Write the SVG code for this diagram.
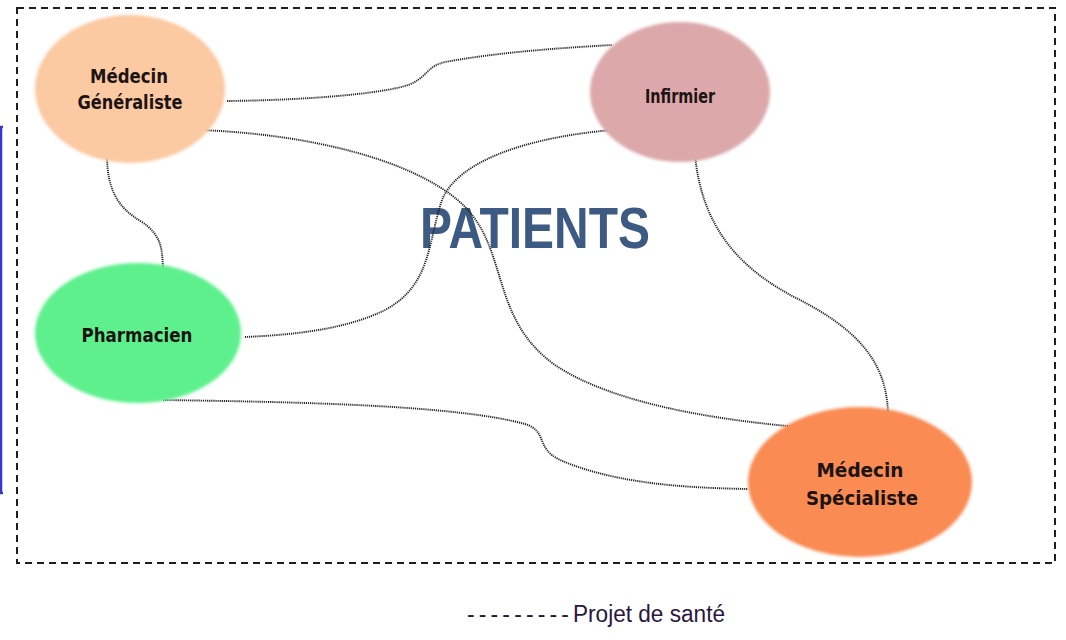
<svg xmlns="http://www.w3.org/2000/svg" width="1066" height="640" viewBox="0 0 1066 640">
  <style>
    .node-label { font-family: "DejaVu Sans Condensed", "DejaVu Sans", sans-serif; font-weight: bold; font-size: 20px; fill: #1c1414; text-anchor: middle; }
    .link { fill: none; stroke: #262626; stroke-width: 1.9; stroke-dasharray: 1.2 0.9; }
    .frame { fill: none; stroke: #1e1e1e; stroke-width: 2; stroke-dasharray: 7 5; }
    .title { font-family: "Liberation Sans", Arial, sans-serif; font-weight: bold; font-size: 57px; fill: #3d5a82; }
    .legend { font-family: "Liberation Sans", Arial, sans-serif; font-size: 23px; fill: #2a1640; }
  </style>
  <defs>
    <filter id="soft" x="-10%" y="-10%" width="120%" height="120%">
      <feGaussianBlur stdDeviation="1.6"/>
    </filter>
  </defs>

  <rect width="1066" height="640" fill="#ffffff"/>

  <!-- side marker on the left edge -->
  <path d="M3,127 H1 V493 H3" fill="none" stroke="#3a35d0" stroke-width="2.5"/>

  <!-- project boundary -->
  <rect class="frame" x="17" y="8" width="1038" height="555"/>

  <!-- central title -->
  <text class="title" x="420" y="248" textLength="230" lengthAdjust="spacingAndGlyphs">PATIENTS</text>

  <!-- connectors -->
  <g id="connectors">
    <path class="link" d="M227,101 C320,100 395,92 413,83 C428,75 428,66 445,62 C500,52 560,48 612,45"/>
    <path class="link" d="M200,130 C330,135 430,168 468,210 C508,255 492,320 555,365 C615,405 720,420 798,427"/>
    <path class="link" d="M612,130 C530,137 458,160 442,200 C428,240 432,285 385,310 C345,330 290,335 245,337"/>
    <path class="link" d="M107,155 C107,190 118,208 142,222 C163,236 162,252 163,268"/>
    <path class="link" d="M695,155 C702,228 740,270 800,300 C868,335 886,370 888,412"/>
    <path class="link" d="M163,400 C300,402 455,405 525,424 C548,431 535,448 560,460 C620,486 700,488 748,489"/>
  </g>

  <g id="medecin-generaliste">
    <ellipse cx="130" cy="89" rx="95" ry="74" fill="#fbc9a2" filter="url(#soft)"/>
    <text class="node-label" x="129" y="83" textLength="78" lengthAdjust="spacingAndGlyphs">Médecin</text>
    <text class="node-label" x="130" y="109" textLength="105" lengthAdjust="spacingAndGlyphs">Généraliste</text>
  </g>

  <g id="infirmier">
    <ellipse cx="680" cy="92" rx="90" ry="70" fill="#dca8aa" filter="url(#soft)"/>
    <text class="node-label" x="680" y="103" textLength="70" lengthAdjust="spacingAndGlyphs">Infirmier</text>
  </g>

  <g id="pharmacien">
    <ellipse cx="138" cy="333" rx="103" ry="70" fill="#5ef08e" filter="url(#soft)"/>
    <text class="node-label" x="137" y="342" textLength="111" lengthAdjust="spacingAndGlyphs">Pharmacien</text>
  </g>

  <g id="medecin-specialiste">
    <ellipse cx="860" cy="482" rx="112" ry="75" fill="#f98b52" filter="url(#soft)"/>
    <text class="node-label" x="860" y="477" textLength="87" lengthAdjust="spacingAndGlyphs">Médecin</text>
    <text class="node-label" x="862" y="505" textLength="112" lengthAdjust="spacingAndGlyphs">Spécialiste</text>
  </g>

  <!-- legend -->
  <text class="legend" x="467" y="622"><tspan textLength="102" lengthAdjust="spacing">- - - - - - - - -</tspan><tspan x="573" textLength="152" lengthAdjust="spacingAndGlyphs">Projet de santé</tspan></text>
</svg>
